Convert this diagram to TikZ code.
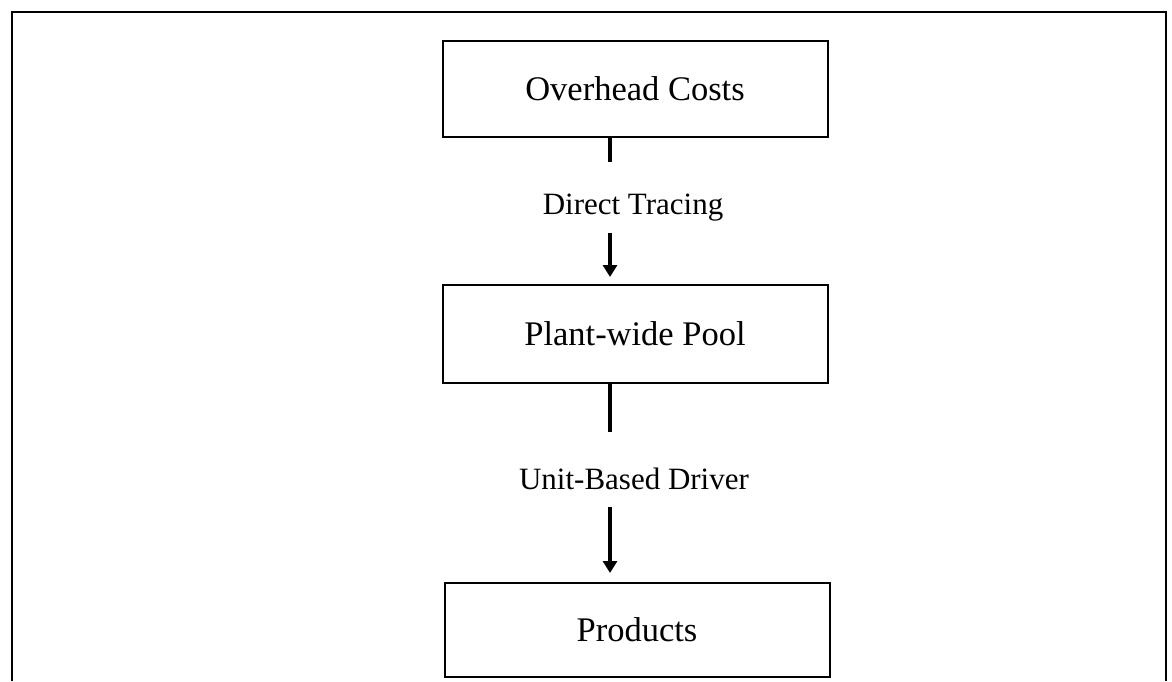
\documentclass[tikz,border=0pt]{standalone}
\usepackage{fontspec}
\setmainfont{Liberation Serif}
\usetikzlibrary{arrows.meta}
\begin{document}
\begin{tikzpicture}[x=1pt,y=-1pt,
  box/.style={draw, line width=2pt, minimum width=385pt, minimum height=96pt, inner sep=0pt,
    font=\fontsize{34.5}{40}\selectfont},
  lbl/.style={inner sep=0pt, font=\fontsize{31}{36}\selectfont},
  stub/.style={line width=4pt},
  arr/.style={line width=4pt, -{Triangle[width=14pt,length=12pt]}},
  frame/.style={line width=2.5pt}]
\useasboundingbox (0,0) rectangle (1172,681);
% outer frame (open at the bottom, cut off)
\coordinate (f1) at (12,681);
\coordinate (f2) at (12,12);
\coordinate (f3) at (1166,12);
\coordinate (f4) at (1166,681);
\draw[frame] (f1) -- (f2) -- (f3) -- (f4);
% boxes
\node[box] (oc) at (635,88.5) {Overhead Costs};
\node[box, minimum height=98pt] (pp) at (635,334) {Plant-wide Pool};
\node[box, minimum height=94pt] (pr) at (637,630) {Products};
% labels
\node[lbl] (dt) at (633,208) {Direct Tracing};
\node[lbl] (ub) at (634,479) {Unit-Based Driver};
% connector points
\coordinate (c1) at (610,162);
\coordinate (c2) at (610,233);
\coordinate (c3) at (610,432);
\coordinate (c4) at (610,507);
\draw[stub] (oc.south -| c1) -- (c1);
\draw[arr, shorten >=7pt] (c2) -- (pp.north -| c2);
\draw[stub] (pp.south -| c3) -- (c3);
\draw[arr, shorten >=9pt] (c4) -- (pr.north -| c4);
\end{tikzpicture}
\end{document}
